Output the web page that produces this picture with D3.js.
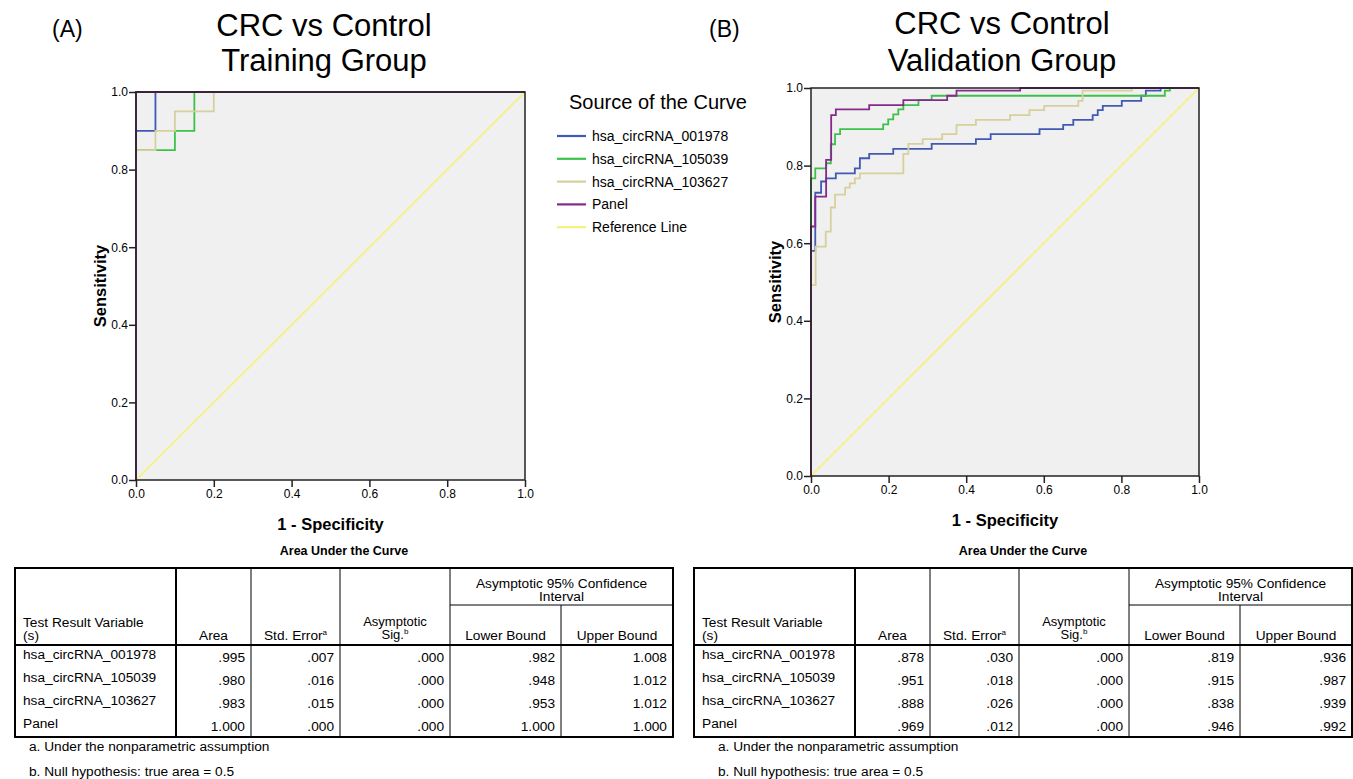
<!DOCTYPE html>
<html><head><meta charset="utf-8">
<script src="https://cdn.jsdelivr.net/npm/d3@7/dist/d3.min.js"></script>
<style>
body{margin:0;background:#fff}
svg{display:block}
text{font-family:"Liberation Sans",Arial,sans-serif;fill:#000}
</style>
</head><body>
<svg id="chart" width="1353" height="779"></svg>
<script>
// ---------- DATA ----------
const seriesNames = ["hsa_circRNA_001978","hsa_circRNA_105039","hsa_circRNA_103627","Panel"];
const legendLabels = ["hsa_circRNA_001978","hsa_circRNA_105039","hsa_circRNA_103627","Panel","Reference Line"];
const axisTicks = [0,0.2,0.4,0.6,0.8,1.0];

// ROC corner points [1-specificity, sensitivity] (step: rise first, then run)
const train001978 = [[0,0],[0.05,0.9],[1,1]];
const train105039 = [[0,0],[0.1,0.85],[0.15,0.9],[1,1]];
const train103627 = [[0,0],[0.05,0.85],[0.1,0.9],[0.2,0.95],[1,1]];
const trainPanel  = [[0,0],[1,1]];

const valid001978 = [[0,0],[0.011,0.58],[0.026,0.73],[0.039,0.759],[0.064,0.767],[0.113,0.78],[0.126,0.793],[0.150,0.819],[0.212,0.830],[0.311,0.843],[0.425,0.856],[0.463,0.868],[0.589,0.881],[0.650,0.894],[0.676,0.905],[0.726,0.918],[0.739,0.93],[0.752,0.943],[0.801,0.954],[0.851,0.967],[0.863,0.98],[0.901,0.993],[1,1]];
const valid105039 = [[0,0],[0.011,0.767],[0.039,0.793],[0.051,0.806],[0.062,0.855],[0.075,0.881],[0.186,0.894],[0.199,0.906],[0.212,0.919],[0.225,0.932],[0.238,0.945],[0.277,0.956],[0.311,0.969],[0.912,0.98],[0.925,0.993],[1,1]];
const valid103627 = [[0,0],[0.012,0.492],[0.038,0.591],[0.051,0.63],[0.062,0.692],[0.088,0.725],[0.1,0.743],[0.113,0.754],[0.126,0.767],[0.238,0.78],[0.251,0.83],[0.288,0.856],[0.338,0.868],[0.375,0.881],[0.425,0.905],[0.513,0.918],[0.563,0.93],[0.601,0.943],[0.689,0.954],[0.7,0.967],[0.827,0.993],[1,1]];
const validPanel  = [[0,0],[0.011,0.643],[0.039,0.72],[0.052,0.815],[0.064,0.93],[0.15,0.945],[0.238,0.956],[0.351,0.969],[0.375,0.98],[0.539,0.993],[1,1]];
const referenceLine = [[0,0],[1,1]];

// AUC tables
const tableRows = ["hsa_circRNA_001978","hsa_circRNA_105039","hsa_circRNA_103627","Panel"];
const trainArea  = [".995",".980",".983","1.000"];
const trainSE    = [".007",".016",".015",".000"];
const trainSig   = [".000",".000",".000",".000"];
const trainLower = [".982",".948",".953","1.000"];
const trainUpper = ["1.008","1.012","1.012","1.000"];
const validArea  = [".878",".951",".888",".969"];
const validSE    = [".030",".018",".026",".012"];
const validSig   = [".000",".000",".000",".000"];
const validLower = [".819",".915",".838",".946"];
const validUpper = [".936",".987",".939",".992"];
const footnotes = ["a. Under the nonparametric assumption","b. Null hypothesis: true area = 0.5"];

// ---------- STYLE ----------
const colors = ["#4059b5","#3cc24a","#d6d09c","#85298a"];
const refColor = "#f6f07a";
const svg = d3.select("#chart");
const FONT = '"Liberation Sans",Arial,sans-serif';

function drawPanel(o){
  const x = d3.scaleLinear().domain([0,1]).range([o.x0,o.x1]);
  const y = d3.scaleLinear().domain([0,1]).range([o.y0,o.y1]);
  const g = svg.append("g");
  g.append("rect").attr("x",o.x0).attr("y",o.y1).attr("width",o.x1-o.x0).attr("height",o.y0-o.y1)
    .attr("fill","#f0f0f0");
  const stepLine = d3.line().x(d=>x(d[0])).y(d=>y(d[1])).curve(d3.curveStepBefore);
  const lin = d3.line().x(d=>x(d[0])).y(d=>y(d[1]));
  g.append("path").attr("d",lin(referenceLine)).attr("fill","none").attr("stroke",refColor).attr("stroke-width",1.6);
  o.curves.forEach((c,i)=>{
    g.append("path").attr("d",stepLine(c)).attr("fill","none").attr("stroke",colors[i]).attr("stroke-width",1.8);
  });
  g.append("rect").attr("x",o.x0).attr("y",o.y1).attr("width",o.x1-o.x0).attr("height",o.y0-o.y1)
    .attr("fill","none").attr("stroke","#222").attr("stroke-width",1.5);
  const fmt = d3.format(".1f");
  const ax = g.append("g").attr("transform",`translate(0,${o.y0})`)
    .call(d3.axisBottom(x).tickValues(axisTicks).tickFormat(fmt).tickSizeOuter(0).tickSize(7).tickPadding(2));
  const ay = g.append("g").attr("transform",`translate(${o.x0},0)`)
    .call(d3.axisLeft(y).tickValues(axisTicks).tickFormat(fmt).tickSizeOuter(0).tickSize(7).tickPadding(1));
  [ax,ay].forEach(a=>{
    a.select(".domain").remove();
    a.selectAll("line").attr("stroke","#222").attr("stroke-width",1.5);
    a.selectAll("text").attr("font-size",12).attr("font-family",FONT).attr("fill","#000");
  });
  g.append("text").attr("x",(o.x0+o.x1)/2).attr("y",o.y0+50).attr("text-anchor","middle")
    .attr("font-size",16.5).attr("font-weight","bold").text("1 - Specificity");
  g.append("text").attr("transform",`translate(${o.x0-30},${(o.y0+o.y1)/2}) rotate(-90)`)
    .attr("text-anchor","middle").attr("font-size",16.5).attr("font-weight","bold").text("Sensitivity");
  g.append("text").attr("x",o.tx).attr("y",o.ty1).attr("text-anchor","middle").attr("font-size",31).text(o.title1);
  g.append("text").attr("x",o.tx).attr("y",o.ty2).attr("text-anchor","middle").attr("font-size",31).text(o.title2);
  g.append("text").attr("x",o.lx).attr("y",37).attr("font-size",23).text(o.letter);
}

drawPanel({x0:136,x1:525,y0:480,y1:92,curves:[train001978,train105039,train103627,trainPanel],
  title1:"CRC vs Control",title2:"Training Group",tx:324,ty1:36,ty2:71,letter:"(A)",lx:52});
drawPanel({x0:811,x1:1199,y0:476,y1:88,curves:[valid001978,valid105039,valid103627,validPanel],
  title1:"CRC vs Control",title2:"Validation Group",tx:1002,ty1:34,ty2:71,letter:"(B)",lx:709});

// Legend
const lg = svg.append("g");
lg.append("text").attr("x",569).attr("y",109).attr("font-size",20).text("Source of the Curve");
legendLabels.forEach((t,i)=>{
  const yy = 136 + i*22.8;
  lg.append("line").attr("x1",557).attr("x2",586).attr("y1",yy).attr("y2",yy)
    .attr("stroke", i<4?colors[i]:refColor).attr("stroke-width",2.2);
  lg.append("text").attr("x",592).attr("y",yy+5).attr("font-size",14).text(t);
});

// Tables
function drawTable(ox, cols, footX){
  const g = svg.append("g").attr("transform",`translate(${ox},0)`);
  const cx = [15,176,251,340,450,561,673];
  const top=568, ciLine=605, hdrBot=645, bot=737;
  const fs = 13.7;
  g.append("text").attr("x",(cx[0]+cx[6])/2).attr("y",555).attr("text-anchor","middle")
    .attr("font-size",12.5).attr("font-weight","bold").text("Area Under the Curve");
  // thin lines
  [2,3,4,5].forEach(i=>{
    const y1 = (i===5)?ciLine:top;
    g.append("line").attr("x1",cx[i]).attr("x2",cx[i]).attr("y1",y1).attr("y2",bot).attr("stroke","#000").attr("stroke-width",1);
  });
  g.append("line").attr("x1",cx[4]).attr("x2",cx[6]).attr("y1",ciLine).attr("y2",ciLine).attr("stroke","#000").attr("stroke-width",1);
  // thick lines
  g.append("line").attr("x1",cx[1]).attr("x2",cx[1]).attr("y1",top).attr("y2",bot).attr("stroke","#000").attr("stroke-width",2);
  g.append("line").attr("x1",cx[0]).attr("x2",cx[6]).attr("y1",hdrBot).attr("y2",hdrBot).attr("stroke","#000").attr("stroke-width",2);
  g.append("rect").attr("x",cx[0]).attr("y",top).attr("width",cx[6]-cx[0]).attr("height",bot-top)
    .attr("fill","none").attr("stroke","#000").attr("stroke-width",2);
  // headers
  const t = (x,y,s,anchor,size)=>g.append("text").attr("x",x).attr("y",y).attr("font-size",size||fs).attr("text-anchor",anchor||"start").text(s);
  t(cx[0]+8,627,"Test Result Variable");
  t(cx[0]+8,640,"(s)");
  t((cx[1]+cx[2])/2,640,"Area","middle");
  const se = g.append("text").attr("x",(cx[2]+cx[3])/2).attr("y",640).attr("font-size",fs).attr("text-anchor","middle");
  se.append("tspan").text("Std. Error");
  se.append("tspan").attr("font-size",8).attr("dy",-5).text("a");
  t((cx[3]+cx[4])/2,626,"Asymptotic","middle",13);
  const sg = g.append("text").attr("x",(cx[3]+cx[4])/2).attr("y",639).attr("font-size",13).attr("text-anchor","middle");
  sg.append("tspan").text("Sig.");
  sg.append("tspan").attr("font-size",8).attr("dy",-5).text("b");
  t((cx[4]+cx[6])/2,588,"Asymptotic 95% Confidence","middle");
  t((cx[4]+cx[6])/2,601,"Interval","middle");
  t((cx[4]+cx[5])/2,640,"Lower Bound","middle");
  t((cx[5]+cx[6])/2,640,"Upper Bound","middle");
  tableRows.forEach((r,i)=>{
    const yy = 659 + i*23;
    t(cx[0]+8,yy,r);
    cols.forEach((c,j)=>t(cx[j+2]-6,yy+3,c[i],"end"));
  });
  t(footX,751,footnotes[0]);
  t(footX,776,footnotes[1]);
}
drawTable(0,[trainArea,trainSE,trainSig,trainLower,trainUpper],29);
drawTable(679,[validArea,validSE,validSig,validLower,validUpper],39);
</script>
</body></html>
